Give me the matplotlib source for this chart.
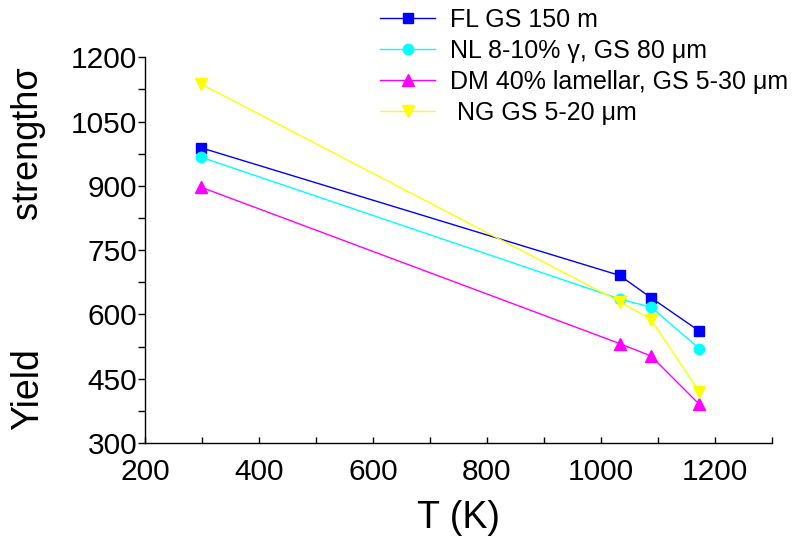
import matplotlib
matplotlib.use("Agg")
import matplotlib.pyplot as plt
from matplotlib.ticker import MultipleLocator

plt.rcParams['font.family'] = ['Liberation Sans', 'DejaVu Sans']

temps = [298, 1033, 1088, 1173]
fl_gs150 = [989, 691, 639, 561]
nl_gs80 = [967, 636, 617, 520]
dm_gs5_30 = [897, 532, 503, 390]
ng_gs5_20 = [1138, 630, 588, 419]

labels = ["FL GS 150 m",
          "NL 8-10% \u03b3, GS 80 \u03bcm",
          "DM 40% lamellar, GS 5-30 \u03bcm",
          " NG GS 5-20 \u03bcm"]

x_ticks = [200, 400, 600, 800, 1000, 1200]
y_ticks = [300, 450, 600, 750, 900, 1050, 1200]

fig = plt.figure(figsize=(8.09, 5.44), dpi=100)
ax = fig.add_axes([0.1792, 0.1857, 0.954 - 0.1792, 0.8947 - 0.1857])

series = [
    (fl_gs150, '#0000FF', 's', 6.5),
    (nl_gs80, '#00FFFF', 'o', 7.5),
    (dm_gs5_30, '#FF00FF', '^', 8),
    (ng_gs5_20, '#FFFF00', 'v', 8),
]
handles = []
for vals, col, mk, ms in series:
    h, = ax.plot(temps, vals, color=col, marker=mk, markersize=ms, linewidth=1.0,
                 markeredgecolor=col, markerfacecolor=col)
    handles.append(h)

ax.set_xlim(200, 1300)
ax.set_ylim(300, 1200)
ax.set_xticks(x_ticks)
ax.set_yticks(y_ticks)
ax.xaxis.set_minor_locator(MultipleLocator(100))
ax.yaxis.set_minor_locator(MultipleLocator(75))
ax.spines['top'].set_visible(False)
ax.spines['right'].set_visible(False)
ax.spines['left'].set_linewidth(1.0)
ax.spines['bottom'].set_linewidth(1.0)
ax.tick_params(axis='x', which='both', direction='in', length=4, width=1.0,
               labelsize=21.5, pad=11)
ax.tick_params(axis='y', which='both', direction='out', length=5, width=1.0,
               labelsize=21.5, pad=0.5)

ax.set_xlabel("T (K)", fontsize=27, labelpad=10)

fig.text(28 / 809, 1 - 389 / 544, "Yield", rotation=90, fontsize=27,
         ha='center', va='center')
fig.text(28 / 809, 1 - 143 / 544, "strength\u03c3", rotation=90, fontsize=26,
         ha='center', va='center')

fig.legend(handles, labels, loc='upper left',
           bbox_to_anchor=(375 / 809, 1 - 3 / 544), frameon=False,
           fontsize=18, handlelength=2.2, handletextpad=0.6,
           labelspacing=0.28, borderpad=0.2, borderaxespad=0)

fig.savefig("out.png", dpi=100)
